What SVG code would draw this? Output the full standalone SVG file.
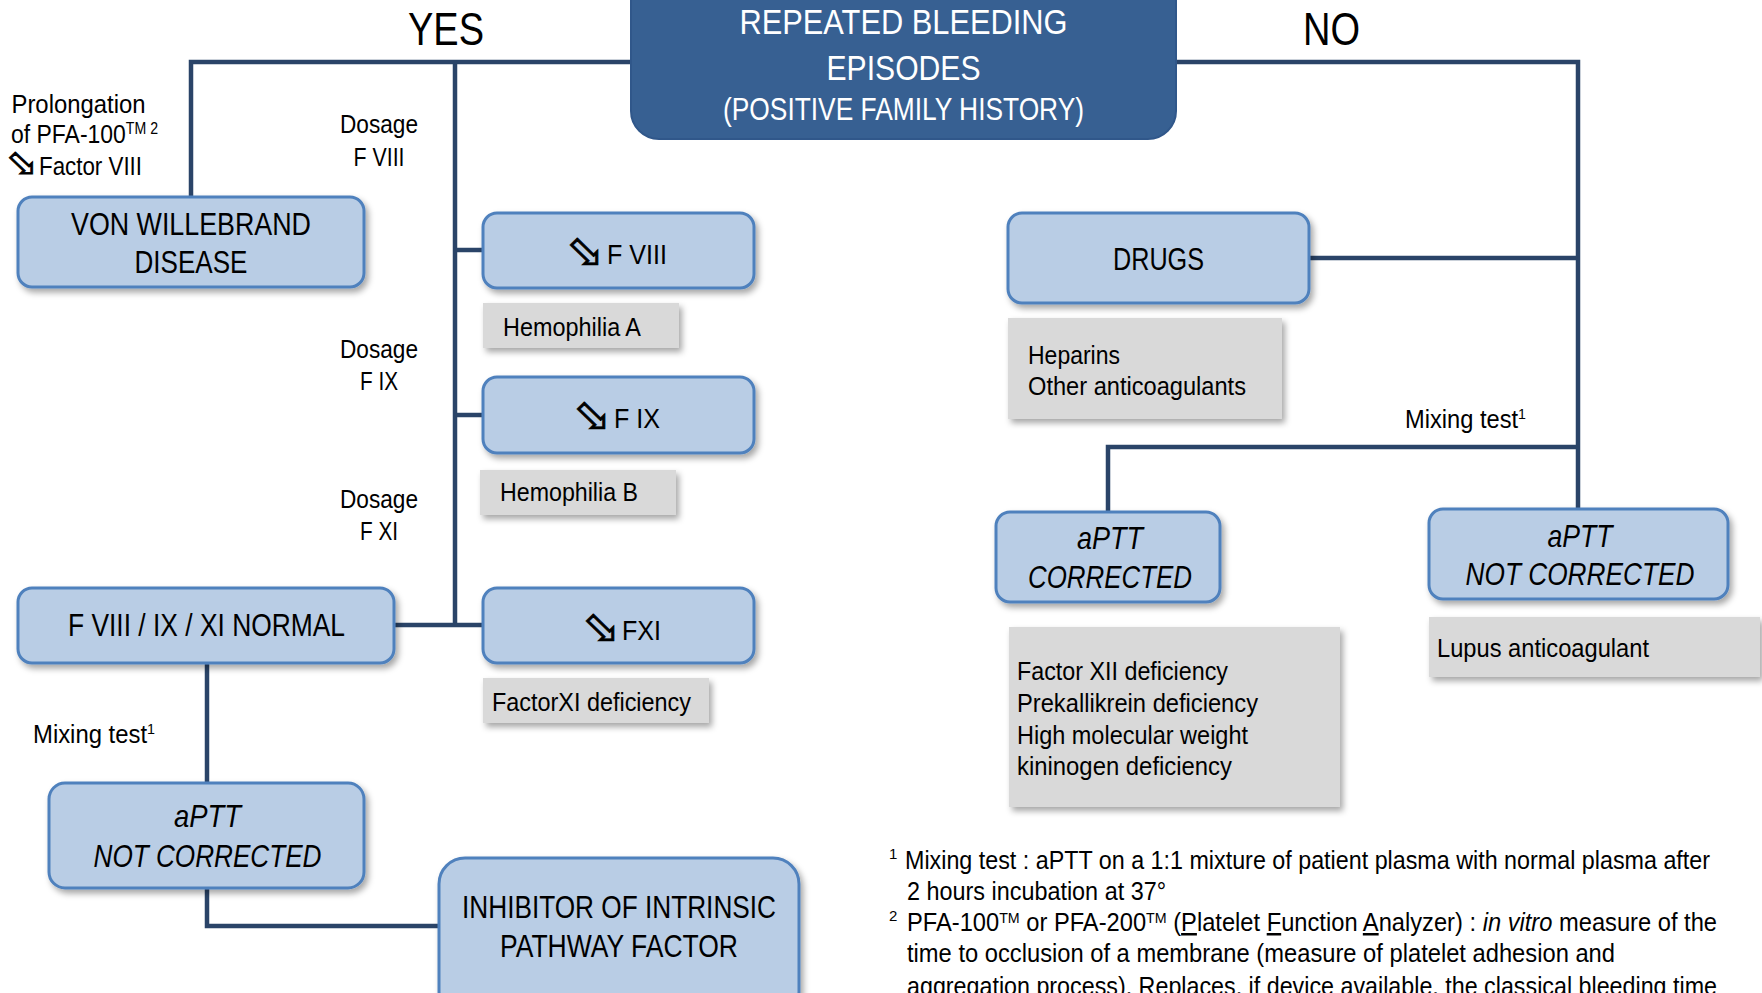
<svg xmlns="http://www.w3.org/2000/svg" width="1762" height="993" viewBox="0 0 1762 993">
<style>
text{font-family:"Liberation Sans Narrow","Liberation Sans",Arial,sans-serif;fill:#000}
.box{fill:#b9cde5;stroke:#4f81bd;stroke-width:3;filter:url(#sh)}
.grey{fill:#d9d9d9;filter:url(#sh)}
.top{fill:#376092;stroke:#30578a;stroke-width:2}
.conn path{stroke:#2a4468;stroke-width:4.5;fill:none}
.w{fill:#fff}
.c{text-anchor:middle}
.b30{font-size:30.5px}
.l25{font-size:25px}
.g26{font-size:26px}
.fn{font-size:25px}
.sup{font-size:15px}
.it{font-style:italic}
.ar{font-family:"DejaVu Sans",sans-serif;stroke:#000;stroke-width:0.8}
</style>
<defs>
<filter id="sh" x="-10%" y="-20%" width="120%" height="150%">
<feDropShadow dx="3" dy="4" stdDeviation="3" flood-color="#000" flood-opacity="0.35"/>
</filter>
</defs>
<rect width="1762" height="993" fill="#fff"/>
<g class="conn" id="connectors">
<path d="M191,197 V62 H631"/>
<path d="M455,62 V625"/>
<path d="M455,250 H484"/>
<path d="M455,415 H484"/>
<path d="M394,625 H484"/>
<path d="M1176,62 H1578 V509"/>
<path d="M1309,258 H1578"/>
<path d="M1578,447 H1108 V512"/>
<path d="M207,663 V783"/>
<path d="M207,888 V926 H439"/>
</g>
<g id="labels">
<text x="446" y="45" class="c" font-size="46" textLength="76" lengthAdjust="spacingAndGlyphs">YES</text>
<text x="1331.5" y="45" class="c" font-size="46" textLength="57" lengthAdjust="spacingAndGlyphs">NO</text>
<text x="11.5" y="113" class="g26" textLength="134" lengthAdjust="spacingAndGlyphs">Prolongation</text>
<text x="11" y="143" class="g26" textLength="147" lengthAdjust="spacingAndGlyphs">of PFA-100<tspan font-size="16" baseline-shift="9">TM 2</tspan></text>
<text x="6" y="175" class="ar" font-size="36" textLength="32" lengthAdjust="spacingAndGlyphs">&#x2B02;</text>
<text x="39" y="175" class="g26" textLength="103" lengthAdjust="spacingAndGlyphs">Factor VIII</text>
<text x="379" y="133" class="c l25" textLength="78" lengthAdjust="spacingAndGlyphs">Dosage</text>
<text x="379" y="166" class="c l25" textLength="51" lengthAdjust="spacingAndGlyphs">F VIII</text>
<text x="379" y="358" class="c l25" textLength="78" lengthAdjust="spacingAndGlyphs">Dosage</text>
<text x="379" y="390" class="c l25" textLength="38" lengthAdjust="spacingAndGlyphs">F IX</text>
<text x="379" y="508" class="c l25" textLength="78" lengthAdjust="spacingAndGlyphs">Dosage</text>
<text x="379" y="540" class="c l25" textLength="38" lengthAdjust="spacingAndGlyphs">F XI</text>
<text x="33" y="743" class="l25" textLength="122" lengthAdjust="spacingAndGlyphs">Mixing test<tspan class="sup" baseline-shift="9">1</tspan></text>
<text x="1405" y="428" class="l25" textLength="121" lengthAdjust="spacingAndGlyphs">Mixing test<tspan class="sup" baseline-shift="9">1</tspan></text>
</g>
<g id="root">
<rect x="631" y="-30" width="545" height="169" rx="28" class="top"/>
<text x="903.5" y="34" class="c w" font-size="35" textLength="328" lengthAdjust="spacingAndGlyphs">REPEATED BLEEDING</text>
<text x="903.5" y="80" class="c w" font-size="35" textLength="154" lengthAdjust="spacingAndGlyphs">EPISODES</text>
<text x="903.5" y="120" class="c w" font-size="32" textLength="361" lengthAdjust="spacingAndGlyphs">(POSITIVE FAMILY HISTORY)</text>
</g>
<g id="vwd">
<rect x="18" y="197" width="346" height="90" rx="14" class="box"/>
<text x="191" y="235" class="c b30" textLength="240" lengthAdjust="spacingAndGlyphs">VON WILLEBRAND</text>
<text x="191" y="273" class="c b30" textLength="113" lengthAdjust="spacingAndGlyphs">DISEASE</text>
</g>
<g id="f8">
<rect x="483" y="213" width="271" height="75" rx="14" class="box"/>
<text x="566" y="266" class="ar" font-size="44" textLength="38" lengthAdjust="spacingAndGlyphs">&#x2B02;</text>
<text x="607" y="264" font-size="28" textLength="60" lengthAdjust="spacingAndGlyphs">F VIII</text>
</g>
<g id="hemA">
<rect x="483" y="303" width="196" height="45" class="grey"/>
<text x="503" y="336" class="g26" textLength="138" lengthAdjust="spacingAndGlyphs">Hemophilia A</text>
</g>
<g id="f9">
<rect x="483" y="377" width="271" height="76" rx="14" class="box"/>
<text x="573" y="430" class="ar" font-size="44" textLength="38" lengthAdjust="spacingAndGlyphs">&#x2B02;</text>
<text x="614" y="428" font-size="28" textLength="46" lengthAdjust="spacingAndGlyphs">F IX</text>
</g>
<g id="hemB">
<rect x="480" y="470" width="196" height="45" class="grey"/>
<text x="500" y="501" class="g26" textLength="138" lengthAdjust="spacingAndGlyphs">Hemophilia B</text>
</g>
<g id="f11">
<rect x="483" y="588" width="271" height="75" rx="14" class="box"/>
<text x="582" y="642" class="ar" font-size="44" textLength="38" lengthAdjust="spacingAndGlyphs">&#x2B02;</text>
<text x="622" y="640" font-size="28" textLength="39" lengthAdjust="spacingAndGlyphs">FXI</text>
</g>
<g id="f11def">
<rect x="483" y="678" width="226" height="45" class="grey"/>
<text x="492" y="711" class="g26" textLength="199" lengthAdjust="spacingAndGlyphs">FactorXI deficiency</text>
</g>
<g id="normal">
<rect x="18" y="588" width="376" height="75" rx="14" class="box"/>
<text x="206.5" y="636" class="c b30" textLength="277" lengthAdjust="spacingAndGlyphs">F VIII / IX / XI NORMAL</text>
</g>
<g id="aptt-left">
<rect x="49" y="783" width="315" height="105" rx="16" class="box"/>
<text x="207.5" y="827" class="c b30 it" textLength="67" lengthAdjust="spacingAndGlyphs">aPTT</text>
<text x="207.5" y="867" class="c b30 it" textLength="228" lengthAdjust="spacingAndGlyphs">NOT CORRECTED</text>
</g>
<g id="inhibitor">
<rect x="439" y="858" width="360" height="160" rx="26" class="box"/>
<text x="619" y="918" class="c b30" textLength="314" lengthAdjust="spacingAndGlyphs">INHIBITOR OF INTRINSIC</text>
<text x="619" y="957" class="c b30" textLength="238" lengthAdjust="spacingAndGlyphs">PATHWAY FACTOR</text>
</g>
<g id="drugs">
<rect x="1008" y="213" width="301" height="90" rx="14" class="box"/>
<text x="1158.5" y="270" class="c b30" textLength="91" lengthAdjust="spacingAndGlyphs">DRUGS</text>
</g>
<g id="heparins">
<rect x="1008" y="318" width="274" height="101" class="grey"/>
<text x="1028" y="364" class="l25" textLength="92" lengthAdjust="spacingAndGlyphs">Heparins</text>
<text x="1028" y="395" class="l25" textLength="218" lengthAdjust="spacingAndGlyphs">Other anticoagulants</text>
</g>
<g id="aptt-corrected">
<rect x="996" y="512" width="224" height="90" rx="14" class="box"/>
<text x="1110" y="549" class="c b30 it" textLength="66" lengthAdjust="spacingAndGlyphs">aPTT</text>
<text x="1110" y="588" class="c b30 it" textLength="164" lengthAdjust="spacingAndGlyphs">CORRECTED</text>
</g>
<g id="aptt-right">
<rect x="1429" y="509" width="299" height="90" rx="14" class="box"/>
<text x="1580" y="547" class="c b30 it" textLength="65" lengthAdjust="spacingAndGlyphs">aPTT</text>
<text x="1580" y="585" class="c b30 it" textLength="229" lengthAdjust="spacingAndGlyphs">NOT CORRECTED</text>
</g>
<g id="lupus">
<rect x="1429" y="617" width="331" height="60" class="grey"/>
<text x="1437" y="657" class="l25" textLength="212" lengthAdjust="spacingAndGlyphs">Lupus anticoagulant</text>
</g>
<g id="f12">
<rect x="1009" y="627" width="331" height="180" class="grey"/>
<text x="1017" y="680" class="l25" textLength="211" lengthAdjust="spacingAndGlyphs">Factor XII deficiency</text>
<text x="1017" y="712" class="l25" textLength="241" lengthAdjust="spacingAndGlyphs">Prekallikrein deficiency</text>
<text x="1017" y="744" class="l25" textLength="231" lengthAdjust="spacingAndGlyphs">High molecular weight</text>
<text x="1017" y="775" class="l25" textLength="215" lengthAdjust="spacingAndGlyphs">kininogen deficiency</text>
</g>
<g id="footnotes">
<text x="889" y="859" class="sup">1</text>
<text x="905" y="869" class="fn" textLength="805" lengthAdjust="spacingAndGlyphs">Mixing test : aPTT on a 1:1 mixture of patient plasma with normal plasma after</text>
<text x="907" y="900" class="fn" textLength="259" lengthAdjust="spacingAndGlyphs">2 hours incubation at 37°</text>
<text x="889" y="921" class="sup">2</text>
<text x="907" y="931" class="fn" textLength="810" lengthAdjust="spacingAndGlyphs">PFA-100<tspan class="sup" baseline-shift="super">TM</tspan>  or PFA-200<tspan class="sup" baseline-shift="super">TM</tspan>  (<tspan text-decoration="underline">P</tspan>latelet <tspan text-decoration="underline">F</tspan>unction  <tspan text-decoration="underline">A</tspan>nalyzer) : <tspan class="it">in vitro</tspan> measure of the</text>
<text x="907" y="962" class="fn" textLength="708" lengthAdjust="spacingAndGlyphs">time to occlusion  of a membrane  (measure of platelet adhesion and</text>
<text x="907" y="995" class="fn" textLength="810" lengthAdjust="spacingAndGlyphs">aggregation process). Replaces, if device available, the classical bleeding time</text>
</g>
</svg>
